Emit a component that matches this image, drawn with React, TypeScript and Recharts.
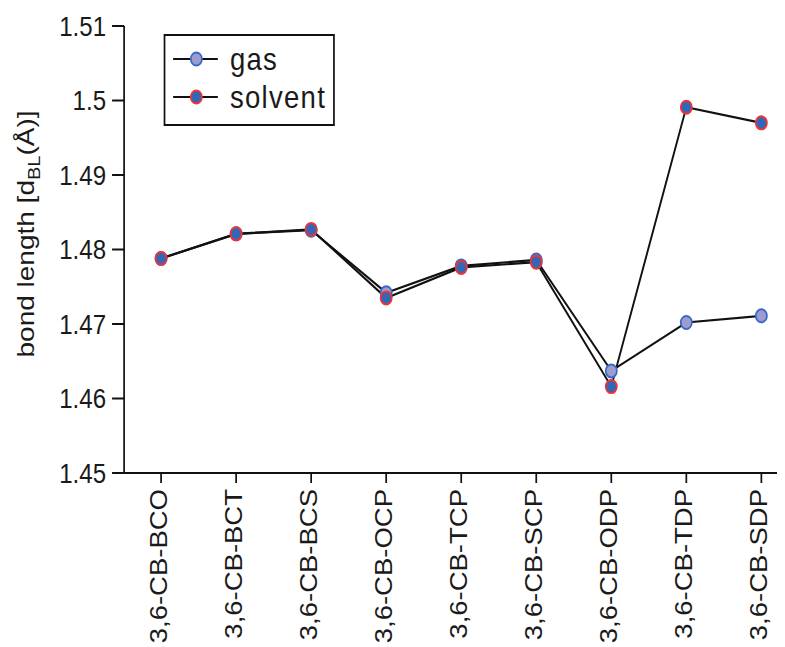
import React from 'react';
import { LineChart, Line, XAxis, YAxis, Legend } from 'recharts';

const categories = ['3,6-CB-BCO', '3,6-CB-BCT', '3,6-CB-BCS', '3,6-CB-OCP', '3,6-CB-TCP', '3,6-CB-SCP', '3,6-CB-ODP', '3,6-CB-TDP', '3,6-CB-SDP'];
const gasValues = [1.4788, 1.4821, 1.4826, 1.4742, 1.4778, 1.4786, 1.4637, 1.4702, 1.4711];
const solventValues = [1.4788, 1.4821, 1.4827, 1.4735, 1.4776, 1.4783, 1.4616, 1.4991, 1.497];
const yTicks = [1.45, 1.46, 1.47, 1.48, 1.49, 1.5, 1.51];

const seriesInfo = [
  { key: 'gas', name: 'gas', fill: '#9c9ccf', stroke: '#3a68c8' },
  { key: 'solvent', name: 'solvent', fill: '#3466b8', stroke: '#ec3434' },
];

const data = categories.map((c, i) => ({ name: c, gas: gasValues[i], solvent: solventValues[i] }));

const FONT = '"Liberation Sans", Arial, sans-serif';
const TEXT = '#1a1a1a';

const XTick = (props: any) => {
  const { x, y, payload } = props;
  return (
    <text
      x={x}
      y={y}
      dy={-3}
      transform={`rotate(-90, ${x}, ${y})`}
      textAnchor="end"
      dominantBaseline="central"
      fontSize={27.5}
      fontFamily={FONT}
      fill={TEXT}
    >
      {payload.value}
    </text>
  );
};

const YLabel = () => (
  <text
    x={30}
    y={226}
    transform="rotate(-90, 30, 226)"
    textAnchor="middle"
    fontSize={28}
    fontFamily={FONT}
    fill={TEXT}
  >
    <tspan>bond length [d</tspan>
    <tspan fontSize={20} dy={7}>BL</tspan>
    <tspan dy={-7}>(Å)]</tspan>
  </text>
);

const LegendBox = () => (
  <div
    style={{
      position: 'relative',
      width: 199,
      height: 92,
      border: '2px solid #111',
      boxSizing: 'border-box',
      background: '#fff',
      fontFamily: FONT,
    }}
  >
    {seriesInfo.map((s, i) => (
      <div key={s.key} style={{ position: 'absolute', left: 0, top: 0 }}>
        <svg width={80} height={92} style={{ position: 'absolute', left: 0, top: 0, overflow: 'visible' }}>
          <line x1={9} x2={61} y1={23 + i * 38} y2={23 + i * 38} stroke="#111" strokeWidth={2} />
          <circle cx={36} cy={23 + i * 38} r={6.5} fill={s.fill} stroke={s.stroke} strokeWidth={2} />
        </svg>
        <div
          style={{
            position: 'absolute',
            left: 75,
            top: 23 + i * 38 - 18,
            height: 36,
            lineHeight: '36px',
            fontSize: 32,
            letterSpacing: 1.5,
            color: TEXT,
            whiteSpace: 'nowrap',
          }}
        >
          {s.name}
        </div>
      </div>
    ))}
  </div>
);

export default function App() {
  return (
    <div style={{ width: 777, height: 639, overflow: 'hidden' }}>
      <div style={{ width: 905, height: 639, transform: 'scaleX(0.86)', transformOrigin: '0 0', background: '#fff' }}>
        <LineChart width={905} height={639} data={data} margin={{ top: 18, right: 8, bottom: 0, left: 0 }}>
          <XAxis
            dataKey="name"
            scale="point"
            padding={{ left: 43, right: 21 }}
            height={174}
            interval={0}
            tickSize={10}
            tickMargin={6}
            tick={<XTick />}
            axisLine={{ stroke: '#111', strokeWidth: 2 }}
            tickLine={{ stroke: '#111', strokeWidth: 2 }}
          />
          <YAxis
            type="number"
            domain={[1.45, 1.51]}
            ticks={yTicks}
            interval={0}
            width={135}
            tickSize={14}
            tickMargin={7}
            tickFormatter={(v: number) => String(v)}
            tick={{ fontSize: 28, fontFamily: FONT, fill: TEXT }}
            axisLine={{ stroke: '#111', strokeWidth: 2 }}
            tickLine={{ stroke: '#111', strokeWidth: 2 }}
            label={<YLabel />}
          />
          <Legend
            layout="horizontal"
            verticalAlign="middle"
            align="center"
            content={() => <LegendBox />}
            wrapperStyle={{ left: 181, top: 26, width: 199, height: 92 }}
          />
          {seriesInfo.map((s) => (
            <Line
              key={s.key}
              dataKey={s.key}
              name={s.name}
              stroke="#111"
              strokeWidth={2.2}
              dot={{ r: 6.5, fill: s.fill, stroke: s.stroke, strokeWidth: 2 }}
              activeDot={false}
              isAnimationActive={false}
            />
          ))}
        </LineChart>
      </div>
    </div>
  );
}
